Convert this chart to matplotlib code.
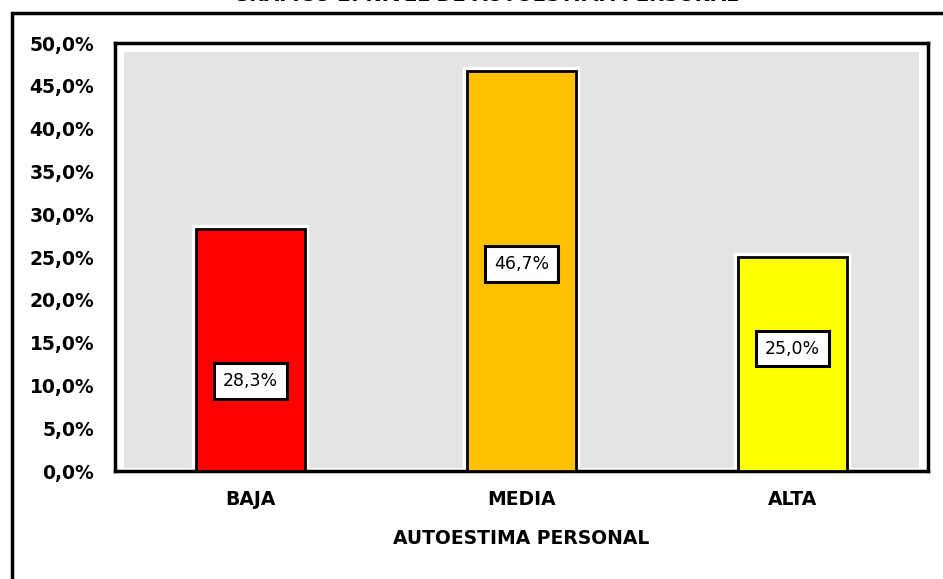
import matplotlib.pyplot as plt
from matplotlib.patches import Rectangle
from matplotlib.ticker import FuncFormatter

# data
categorias = ['BAJA', 'MEDIA', 'ALTA']
porcentajes = [28.3, 46.7, 25.0]
colores = ['#ff0000', '#ffc000', '#ffff00']
etiquetas = ['28,3%', '46,7%', '25,0%']
altura_etiqueta = [10.5, 24.2, 14.3]

fig = plt.figure(figsize=(9.43, 5.79), dpi=100)
fig.patch.set_facecolor('white')

# marco exterior
fig.patches.append(Rectangle((12/943, -0.05), 1.2, 1 - 13/579 + 0.05,
                             transform=fig.transFigure, fill=False,
                             edgecolor='black', linewidth=2.5))

# titulo (cortado arriba en la imagen original)
fig.text(0.515, 1 - 0.6/579, 'GRÁFICO 2: NIVEL DE AUTOESTIMA PERSONAL',
         ha='center', va='baseline', fontsize=14, fontweight='bold')

ax = fig.add_axes([115/943, 1 - 471/579, (928 - 115)/943, (471 - 43)/579])
ax.set_facecolor('white')
ax.add_patch(Rectangle((0.011, 0.008), 0.978, 0.972, transform=ax.transAxes,
                       facecolor='#e4e4e4', edgecolor='none', zorder=0))

x = range(len(categorias))
ax.bar(x, porcentajes, width=0.405, color=colores, edgecolor='white',
       linewidth=6, zorder=2)
ax.bar(x, porcentajes, width=0.405, color=colores, edgecolor='black',
       linewidth=2, zorder=3)

for i, (txt, h) in enumerate(zip(etiquetas, altura_etiqueta)):
    ax.text(i, h, txt, ha='center', va='center', fontsize=12.5, zorder=5,
            bbox=dict(boxstyle='square,pad=0.5', facecolor='white',
                      edgecolor='black', linewidth=2.2))

ax.set_xlim(-0.5, 2.5)
ax.set_ylim(0, 50)
ax.set_yticks(range(0, 51, 5))
ax.yaxis.set_major_formatter(FuncFormatter(lambda v, p: f'{v:.1f}%'.replace('.', ',')))
ax.set_xticks(list(x))
ax.set_xticklabels(categorias)
ax.tick_params(axis='both', length=0, labelsize=13.5)
ax.tick_params(axis='y', pad=15)
ax.tick_params(axis='x', pad=14)
for lab in ax.get_xticklabels() + ax.get_yticklabels():
    lab.set_fontweight('bold')

ax.set_xlabel('AUTOESTIMA PERSONAL', fontsize=13.5, fontweight='bold', labelpad=14)

for s in ax.spines.values():
    s.set_linewidth(2.5)
    s.set_color('black')

fig.savefig('out.png', dpi=100)
